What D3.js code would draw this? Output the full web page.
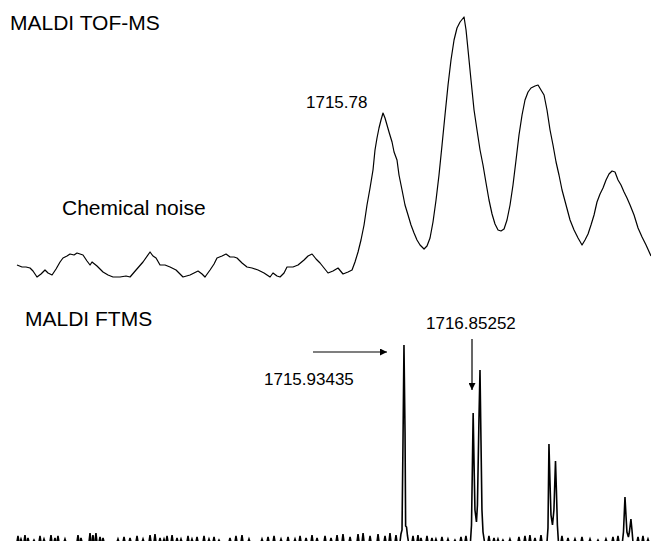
<!DOCTYPE html>
<html>
<head>
<meta charset="utf-8">
<script src="https://cdn.jsdelivr.net/npm/d3@7"></script>
<style>
  html, body { margin: 0; padding: 0; background: #fff; }
  svg { display: block; }
  text { font-family: Arial, "Liberation Sans", sans-serif; fill: #000; }
</style>
</head>
<body>
<div id="chart"></div>
<script>
// MALDI TOF-MS profile: [m/z, intensity a.u.]
const tofSpectrum = [
  [1711.200,15],[1711.263,13],[1711.313,13],[1711.363,12],[1711.400,9],[1711.450,3],[1711.500,6],[1711.550,10],
  [1711.588,7],[1711.638,5],[1711.688,11],[1711.738,18],[1711.775,22],[1711.825,24],[1711.863,26],[1711.913,25],
  [1711.950,27],[1711.988,26],[1712.025,25],[1712.075,19],[1712.113,15],[1712.138,18],[1712.200,14],[1712.275,8],
  [1712.338,5],[1712.400,3],[1712.488,3],[1712.563,4],[1712.613,3],[1712.688,10],[1712.775,18],[1712.863,28],
  [1712.900,24],[1712.938,22],[1712.988,15],[1713.050,15],[1713.113,13],[1713.188,10],[1713.275,3],[1713.363,5],
  [1713.463,9],[1713.513,6],[1713.550,3],[1713.613,10],[1713.663,16],[1713.700,22],[1713.763,24],[1713.813,26],
  [1713.863,23],[1713.913,23],[1713.950,22],[1714.013,17],[1714.075,13],[1714.138,12],[1714.213,10],[1714.288,7],
  [1714.363,3],[1714.400,7],[1714.450,4],[1714.488,3],[1714.538,7],[1714.575,13],[1714.650,13],[1714.713,15],
  [1714.788,20],[1714.838,24],[1714.888,26],[1714.938,21],[1714.988,17],[1715.038,12],[1715.088,7],[1715.150,9],
  [1715.213,12],[1715.275,6],[1715.338,8],[1715.388,10],[1715.425,18],[1715.463,28],[1715.500,40],[1715.538,55],
  [1715.575,75],[1715.613,92],[1715.650,110],[1715.675,130],[1715.700,142],[1715.725,152],[1715.750,160],[1715.775,167],
  [1715.800,162],[1715.825,155],[1715.850,148],[1715.888,138],[1715.913,128],[1715.950,120],[1715.975,105],[1716.013,90],
  [1716.050,75],[1716.088,65],[1716.125,55],[1716.163,47],[1716.200,40],[1716.238,35],[1716.288,31],[1716.325,34],
  [1716.363,42],[1716.400,58],[1716.438,80],[1716.475,105],[1716.513,135],[1716.550,165],[1716.588,195],[1716.625,220],
  [1716.663,240],[1716.700,252],[1716.738,258],[1716.788,263],[1716.813,250],[1716.838,230],[1716.875,200],[1716.913,170],
  [1716.950,150],[1716.988,130],[1717.025,115],[1717.063,97],[1717.100,80],[1717.138,66],[1717.175,56],[1717.213,50],
  [1717.250,49],[1717.288,51],[1717.325,60],[1717.363,75],[1717.400,95],[1717.438,120],[1717.475,145],[1717.513,165],
  [1717.550,180],[1717.588,188],[1717.625,192],[1717.675,194],[1717.713,195],[1717.750,190],[1717.788,185],[1717.825,170],
  [1717.863,150],[1717.900,135],[1717.938,118],[1717.975,105],[1718.013,90],[1718.063,75],[1718.113,60],[1718.163,50],
  [1718.213,42],[1718.263,35],[1718.300,40],[1718.338,46],[1718.375,55],[1718.413,65],[1718.450,78],[1718.488,86],
  [1718.525,92],[1718.563,100],[1718.600,106],[1718.638,109],[1718.675,108],[1718.713,100],[1718.750,95],[1718.788,88],
  [1718.825,82],[1718.863,75],[1718.913,65],[1718.963,52],[1719.013,43],[1719.063,35],[1719.125,24]
];

// MALDI FTMS isotope peaks: [m/z, intensity a.u.]
const ftmsPeaks = [
  [1715.881,0],[1715.894,8],[1715.908,12],[1715.921,100],[1715.934,197],[1715.948,110],[1715.956,16],[1715.968,15],
  [1715.981,6],[1715.994,0],
  [1716.818,0],[1716.832,17],[1716.845,82],[1716.854,129],[1716.865,82],[1716.878,32],[1716.898,20],[1716.911,37],
  [1716.931,122],[1716.945,172],[1716.958,102],[1716.971,32],[1716.985,10],[1717.005,0],
  [1717.836,0],[1717.849,14],[1717.862,98],[1717.875,62],[1717.889,27],[1717.909,17],[1717.928,32],[1717.949,81],
  [1717.961,52],[1717.974,17],[1717.988,0],
  [1718.839,0],[1718.853,10],[1718.873,45],[1718.886,27],[1718.899,10],[1718.919,5],[1718.932,10],[1718.952,23],
  [1718.966,12],[1718.979,0]
];

// FTMS baseline noise spikes: [m/z, height a.u.]
const ftmsNoise = [
  [1710.801,6],[1710.841,3],[1710.894,7],[1710.934,4],[1711.014,2],[1711.094,6],[1711.147,3],[1711.240,7],
  [1711.293,4],[1711.333,6],[1711.426,3],[1711.599,7],[1711.639,4],[1711.759,9],[1711.798,7],[1711.838,9],
  [1711.892,5],[1711.932,4],[1712.131,3],[1712.211,5],[1712.291,4],[1712.384,6],[1712.464,3],[1712.557,7],
  [1712.623,8],[1712.690,4],[1712.743,3],[1712.783,6],[1712.850,7],[1712.916,4],[1712.969,3],[1713.062,6],
  [1713.115,3],[1713.182,5],[1713.275,6],[1713.341,3],[1713.408,5],[1713.474,2],[1713.620,4],[1713.700,6],
  [1713.780,7],[1713.873,3],[1714.046,3],[1714.126,5],[1714.206,6],[1714.299,3],[1714.392,5],[1714.485,3],
  [1714.552,6],[1714.632,4],[1714.711,7],[1714.778,4],[1714.884,6],[1714.964,4],[1715.044,7],[1715.123,8],
  [1715.217,5],[1715.323,8],[1715.390,9],[1715.483,6],[1715.589,8],[1715.682,6],[1715.748,9],[1715.828,7],
  [1716.054,6],[1716.120,7],[1716.160,4],[1716.240,6],[1716.306,4],[1716.359,3],[1716.439,5],[1716.519,3],
  [1716.612,2],[1716.692,5],[1716.758,6],[1717.064,6],[1717.131,4],[1717.184,3],[1717.250,2],[1717.343,3],
  [1717.463,5],[1717.543,6],[1717.609,7],[1717.676,4],[1717.756,7],[1718.035,6],[1718.115,4],[1718.208,3],
  [1718.301,5],[1718.408,3],[1718.514,2],[1718.620,3],[1718.713,5],[1718.780,6],[1719.046,5],[1719.112,6],
  [1719.179,3]
];

const panelTitles = ["MALDI TOF-MS", "MALDI FTMS"];
const tofPeakLabel = "1715.78";
const noiseLabel = "Chemical noise";
const ftmsMonoLabel = "1715.93435";
const ftmsSecondLabel = "1716.85252";
const ftmsMonoMz = 1715.934;
const ftmsSecondMz = 1716.852;

const width = 651, height = 541;

const svg = d3.select("#chart").append("svg")
  .attr("width", width)
  .attr("height", height);

svg.append("defs").append("marker")
  .attr("id", "head")
  .attr("viewBox", "0 0 10 10")
  .attr("refX", 10).attr("refY", 5)
  .attr("markerWidth", 7).attr("markerHeight", 7)
  .attr("markerUnits", "userSpaceOnUse")
  .attr("orient", "auto")
  .append("path")
  .attr("d", "M0,0 L10,5 L0,10 Z")
  .attr("fill", "#000");

// ---- top panel: TOF
const xTof = d3.scaleLinear().domain([1711.2, 1719.125]).range([17, 651]);
const yTof = d3.scaleLinear().domain([0, 263]).range([280, 17]);

svg.append("path")
  .datum(tofSpectrum)
  .attr("fill", "none")
  .attr("stroke", "#000")
  .attr("stroke-width", 1.2)
  .attr("stroke-linejoin", "round")
  .attr("d", d3.line().x(d => xTof(d[0])).y(d => yTof(d[1])));

svg.append("text").attr("x", 10).attr("y", 30).attr("font-size", 21).text(panelTitles[0]);
svg.append("text").attr("x", 62).attr("y", 215).attr("font-size", 21).text(noiseLabel);
svg.append("text").attr("x", 306).attr("y", 108).attr("font-size", 17).text(tofPeakLabel);

// ---- bottom panel: FTMS
const xFt = d3.scaleLinear().domain([1710.788, 1719.219]).range([17, 651]);
const yFt = d3.scaleLinear().domain([0, 197]).range([542, 345]);

svg.append("path")
  .datum(ftmsPeaks)
  .attr("fill", "none")
  .attr("stroke", "#000")
  .attr("stroke-width", 1.6)
  .attr("stroke-linejoin", "miter")
  .attr("d", d3.line().x(d => xFt(d[0])).y(d => yFt(d[1])));

// noise spikes off the (clipped) baseline
svg.append("g")
  .selectAll("path")
  .data(ftmsNoise)
  .join("path")
  .attr("fill", "none")
  .attr("stroke", "#000")
  .attr("stroke-width", 1.6)
  .attr("d", d => {
    const x = xFt(d[0]);
    return `M${x - 1},${yFt(0)} L${x},${yFt(d[1])} L${x + 1},${yFt(0)}`;
  });

svg.append("text").attr("x", 25).attr("y", 326).attr("font-size", 21).text(panelTitles[1]);
svg.append("text").attr("x", 426).attr("y", 329).attr("font-size", 17).text(ftmsSecondLabel);
svg.append("text").attr("x", 264).attr("y", 385).attr("font-size", 17).text(ftmsMonoLabel);

// arrows
const xMono = xFt(ftmsMonoMz);
svg.append("line")
  .attr("x1", 313).attr("y1", 352)
  .attr("x2", xMono - 17).attr("y2", 352)
  .attr("stroke", "#000").attr("stroke-width", 1.2)
  .attr("marker-end", "url(#head)");

const xSecond = xFt(ftmsSecondMz) - 1;
svg.append("line")
  .attr("x1", xSecond).attr("y1", 339)
  .attr("x2", xSecond).attr("y2", 390)
  .attr("stroke", "#000").attr("stroke-width", 1.2)
  .attr("marker-end", "url(#head)");
</script>
</body>
</html>
